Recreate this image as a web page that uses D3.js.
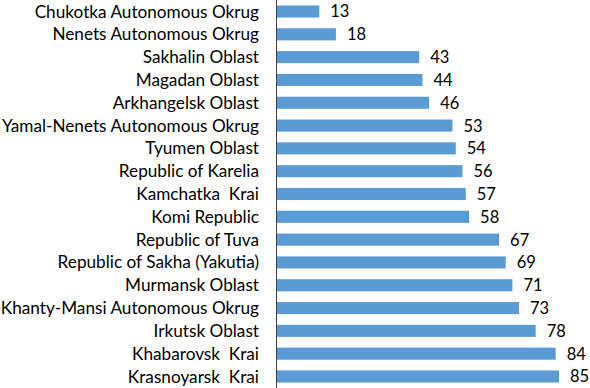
<!DOCTYPE html>
<html>
<head>
<meta charset="utf-8">
<script src="https://cdn.jsdelivr.net/npm/d3@7"></script>
<style>
  body { margin: 0; background: #fff; }
</style>
</head>
<body>
<svg width="590" height="388"></svg>
<script>
// regions, top to bottom
const regions = [
  "Chukotka Autonomous Okrug", "Nenets Autonomous Okrug", "Sakhalin Oblast",
  "Magadan Oblast", "Arkhangelsk Oblast", "Yamal-Nenets Autonomous Okrug",
  "Tyumen Oblast", "Republic of Karelia", "Kamchatka  Krai", "Komi Republic",
  "Republic of Tuva", "Republic of Sakha (Yakutia)", "Murmansk Oblast",
  "Khanty-Mansi Autonomous Okrug", "Irkutsk Oblast", "Khabarovsk  Krai",
  "Krasnoyarsk  Krai"
];
const values = [13, 18, 43, 44, 46, 53, 54, 56, 57, 58, 67, 69, 71, 73, 78, 84, 85];

const svg = d3.select("svg"),
      width = +svg.attr("width"),
      height = +svg.attr("height");

const left = 276;

const x = d3.scaleLinear().domain([0, 85]).range([left, 559]);
const y = d3.scaleBand().domain(regions).range([0, height]).paddingInner(0.47).paddingOuter(0.24);

const data = regions.map((r, i) => ({region: r, value: values[i]}));

svg.selectAll("rect.bar")
  .data(data)
  .join("rect")
  .attr("class", "bar")
  .attr("x", x(0))
  .attr("y", d => y(d.region))
  .attr("width", d => x(d.value) - x(0))
  .attr("height", y.bandwidth())
  .attr("fill", "#5b9bd5");

// category labels
svg.selectAll("text.cat")
  .data(data)
  .join("text")
  .attr("class", "cat")
  .attr("x", 259)
  .attr("y", d => y(d.region) + y.bandwidth() / 2)
  .attr("dy", "0.35em")
  .attr("text-anchor", "end")
  .attr("font-family", "Lato, 'Open Sans', sans-serif")
  .attr("font-size", "17.2px")
  .attr("fill", "#000")
  .style("white-space", "pre")
  .text(d => d.region);

// value labels
svg.selectAll("text.val")
  .data(data)
  .join("text")
  .attr("class", "val")
  .attr("x", d => x(d.value) + 11)
  .attr("y", d => y(d.region) + y.bandwidth() / 2)
  .attr("dy", "0.36em")
  .attr("font-family", "Lato, 'Open Sans', sans-serif")
  .attr("font-size", "16.5px")
  .attr("fill", "#000")
  .text(d => d.value);

// axis line
svg.append("line")
  .attr("x1", left + 0.5).attr("x2", left + 0.5)
  .attr("y1", 0).attr("y2", height)
  .attr("stroke", "#404040")
  .attr("stroke-width", 1);
</script>
</body>
</html>
